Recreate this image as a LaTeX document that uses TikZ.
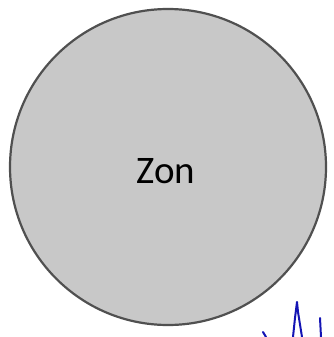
\documentclass[tikz,border=0pt]{standalone}
\usepackage{fontspec}
\setmainfont{Carlito}
\definecolor{zonfill}{RGB}{200,200,200}
\definecolor{zonline}{RGB}{80,80,80}
\definecolor{ink}{RGB}{20,20,180}
\begin{document}
\begin{tikzpicture}[x=1pt,y=-1pt,
  zonstyle/.style={circle,draw=zonline,line width=2.2pt,fill=zonfill,minimum size=316pt,inner sep=0pt},
  scribble/.style={draw=ink,line width=2pt,line cap=round,line join=round}]
\useasboundingbox (0,0) rectangle (334,337);
\node[zonstyle] (zon) at (168,167) {};
\node[font=\fontsize{39}{42}\selectfont] (lbl) at (166,171) {Zon};
\draw[scribble] (293,337) -- (295,318) -- (297,302) -- (298,312) -- (302,337);
\draw[scribble] (320,318) -- (321,337);
\draw[scribble] (263,332) -- (266,337);
\end{tikzpicture}
\end{document}
